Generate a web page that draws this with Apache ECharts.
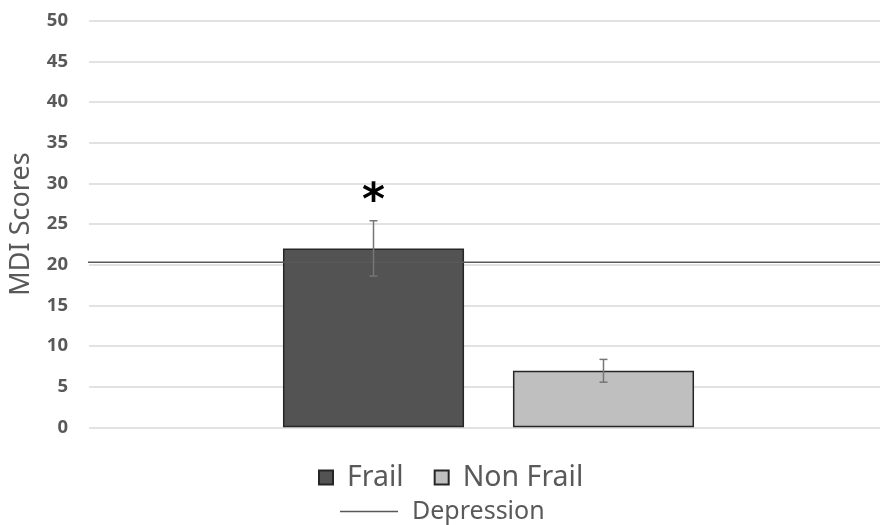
<!DOCTYPE html>
<html>
<head>
<meta charset="utf-8">
<script src="https://cdn.jsdelivr.net/npm/echarts@6/dist/echarts.min.js"></script>
<style>html,body{margin:0;padding:0;background:#fff}#c{width:880px;height:525px}</style>
</head>
<body>
<div id="c"></div>
<script>
var categories = ['MDI'];
var seriesNames = ['Frail', 'Non Frail'];
var means = [22.0, 6.95];
var errors = [3.4, 1.4];
var significance = ['*', ''];
var significanceY = [27.6, null];
var depressionName = 'Depression';
var depressionValue = 20.3;
var depressionX = [-0.01, 1];
var yTicks = {min: 0, max: 50, interval: 5};
var axisTitle = 'MDI Scores';

var FONT = 'Noto Sans';
var TXT = '#595959';
var fills = ['#535353', '#bfbfbf'];
var CAT_GAP = 0.475, BAR_GAP = 0.27;
var TOP = 20.7, BOTTOM = 525 - 427.3;

var chart = echarts.init(document.getElementById('c'), null, {renderer: 'canvas'});

function barCenterOffset(bandWidth, idx) {
  var total = bandWidth * (1 - CAT_GAP);
  var n = seriesNames.length;
  var bw = total / (n + (n - 1) * BAR_GAP);
  return -total / 2 + bw / 2 + idx * bw * (1 + BAR_GAP);
}

var series = seriesNames.map(function (nm, i) {
  return {
    name: nm, type: 'bar', xAxisIndex: 1, yAxisIndex: 1,
    barGap: (BAR_GAP * 100) + '%', barCategoryGap: (CAT_GAP * 100) + '%',
    itemStyle: {color: fills[i], borderColor: '#262626', borderWidth: 1.5},
    emphasis: {disabled: true},
    data: [means[i]], z: 2
  };
});

series.push({
  name: 'err', type: 'custom', xAxisIndex: 1, yAxisIndex: 1, z: 5,
  data: means.map(function (m, i) { return [0, m - errors[i], m + errors[i], i, significanceY[i] == null ? m : significanceY[i]]; }),
  renderItem: function (params, api) {
    var idx = api.value(3);
    var band = api.size([1, 0])[0];
    var c = api.coord([api.value(0), api.value(1)]);
    var x = c[0] + barCenterOffset(band, idx);
    var lo = api.coord([0, api.value(1)])[1];
    var hi = api.coord([0, api.value(2)])[1];
    var cap = 4;
    var st = {stroke: '#767676', lineWidth: 1.5};
    var kids = [
      {type: 'line', shape: {x1: x, y1: lo, x2: x, y2: hi}, style: st},
      {type: 'line', shape: {x1: x - cap, y1: lo, x2: x + cap, y2: lo}, style: st},
      {type: 'line', shape: {x1: x - cap, y1: hi, x2: x + cap, y2: hi}, style: st}
    ];
    if (significance[idx]) {
      var sy = api.coord([0, api.value(4)])[1];
      kids.push({type: 'text', x: x, y: sy, style: {text: significance[idx], fill: '#000', font: 'bold 44px "DejaVu Sans"', align: 'center', verticalAlign: 'middle'}});
    }
    return {type: 'group', children: kids};
  }
});

series.push({
  name: depressionName, type: 'line', xAxisIndex: 0, yAxisIndex: 0,
  symbol: 'none', clip: false, z: 4,
  lineStyle: {color: '#595959', width: 1.5},
  itemStyle: {color: '#595959'},
  emphasis: {disabled: true},
  data: depressionX.map(function (x) { return [x, depressionValue]; })
});

chart.setOption({
  animation: false,
  textStyle: {fontFamily: FONT},
  grid: [
    {left: 86, right: 0, top: TOP, bottom: BOTTOM},
    {left: 97, right: 0, top: TOP, bottom: BOTTOM}
  ],
  xAxis: [
    {type: 'value', gridIndex: 0, min: 0, max: 1, show: false},
    {type: 'category', gridIndex: 1, data: categories, axisLabel: {show: false}, axisTick: {show: false},
     axisLine: {show: false}, splitLine: {show: false}}
  ],
  yAxis: [
    {type: 'value', gridIndex: 0, min: yTicks.min, max: yTicks.max, interval: yTicks.interval,
     name: axisTitle, nameLocation: 'middle', nameGap: 54,
     nameTextStyle: {color: TXT, fontSize: 27, fontFamily: FONT},
     axisLine: {show: false}, axisTick: {show: false},
     axisLabel: {color: TXT, fontSize: 18.5, fontWeight: 'bold', fontFamily: FONT, margin: 21},
     splitLine: {lineStyle: {color: '#d9d9d9', width: 1.5}}},
    {type: 'value', gridIndex: 1, min: yTicks.min, max: yTicks.max, interval: yTicks.interval, show: false,
     splitLine: {show: false}}
  ],
  legend: [
    {data: seriesNames, top: 463, left: 318, itemWidth: 14, itemHeight: 14, itemGap: 30,
     icon: 'rect', selectedMode: false, padding: 0,
     textStyle: {color: TXT, fontSize: 28.5, fontFamily: FONT, padding: [0, 0, 0, 9]}},
    {data: [{name: depressionName, icon: 'rect'}], top: 499, left: 340, itemWidth: 58, itemHeight: 1.5, selectedMode: false,
     padding: 0,
     itemStyle: {color: '#595959', borderWidth: 0},
     textStyle: {color: TXT, fontSize: 25, fontFamily: FONT, padding: [0, 0, 0, 9]}}
  ],
  series: series
});
</script>
</body>
</html>
